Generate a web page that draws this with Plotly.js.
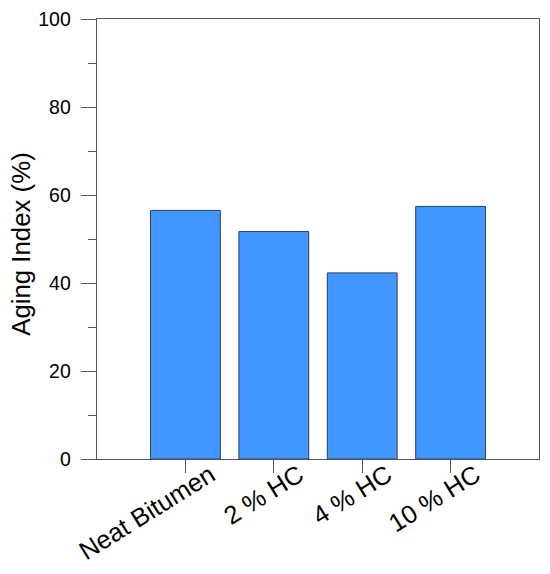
<!DOCTYPE html>
<html>
<head>
<meta charset="utf-8">
<script src="https://cdn.plot.ly/plotly-3.0.1.min.js"></script>
<style>html,body{margin:0;padding:0;background:#fff;}#chart{width:550px;height:574px;}</style>
</head>
<body>
<div id="chart"></div>
<script>
const categories = ["Neat Bitumen", "2 % HC", "4 % HC", "10 % HC"];
const agingIndex = [56.5, 51.7, 42.3, 57.4];
const yTickVals = [0, 20, 40, 60, 80, 100];
const yTitle = "Aging Index (%)";

const trace = {
  type: "bar",
  x: categories,
  y: agingIndex,
  marker: { color: "#4196FF", line: { color: "#2a4262", width: 1 } },
  hoverinfo: "x+y"
};

const layout = {
  width: 550, height: 574,
  margin: { l: 97, r: 11, t: 19, b: 115 },
  paper_bgcolor: "#fff", plot_bgcolor: "#fff",
  showlegend: false,
  bargap: 0.21,
  font: { family: "Liberation Sans, Arial, sans-serif", color: "#000" },
  xaxis: {
    type: "category",
    range: [-1, 4],
    showline: true, linecolor: "#555", linewidth: 1.3, mirror: true,
    showgrid: false, zeroline: false,
    ticks: "outside", ticklen: 13, tickcolor: "#555", tickwidth: 1,
    tickangle: -32,
    tickfont: { size: 25.5, color: "#000" },
    ticklabelshift: 25,
    ticklabelstandoff: -23
  },
  yaxis: {
    range: [0, 100],
    tickvals: yTickVals,
    showline: true, linecolor: "#555", linewidth: 1.3, mirror: true,
    showgrid: false, zeroline: false,
    ticks: "outside", ticklen: 15, tickcolor: "#555", tickwidth: 1,
    minor: { ticks: "outside", ticklen: 8, dtick: 10, tick0: 0, tickcolor: "#555", tickwidth: 1 },
    tickfont: { size: 19.5, color: "#000" },
    ticklabelstandoff: 6
  },
  annotations: [{
    text: yTitle,
    xref: "paper", yref: "paper",
    x: -0.171, y: 0.49,
    xanchor: "center", yanchor: "middle",
    textangle: -90,
    showarrow: false,
    font: { size: 25.8, color: "#000" }
  }]
};

Plotly.newPlot("chart", [trace], layout, { displayModeBar: false, staticPlot: true });
</script>
</body>
</html>
